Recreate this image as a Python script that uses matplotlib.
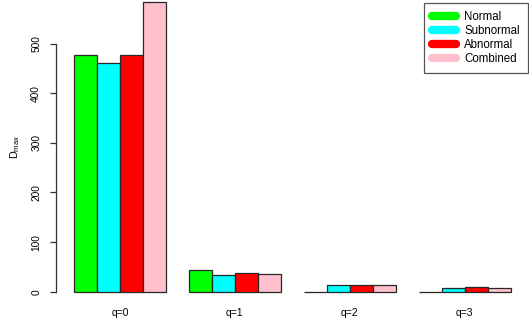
import matplotlib
matplotlib.use("Agg")
import matplotlib.pyplot as plt
from matplotlib.lines import Line2D
import numpy as np

plt.rcParams.update({
    "font.family": ["Liberation Sans", "DejaVu Sans"],
    "font.size": 7.3,
})

# ---------------------------------------------------------------- data
groups = ["q=0", "q=1", "q=2", "q=3"]
series = ["Normal", "Subnormal", "Abnormal", "Combined"]
normal = [478, 44, 0, 0]
subnormal = [462, 34, 13, 8]
abnormal = [477, 37, 14, 9]
combined = [585, 36, 13, 8]
values = [normal, subnormal, abnormal, combined]
colors = ["#00FF00", "#00FFFF", "#FF0000", "#FFC0CB"]

# ---------------------------------------------------------------- plot
fig = plt.figure(figsize=(5.29, 3.21), dpi=100)
ax = fig.add_axes([0.1068, 0.0551, 0.8913, 0.9763])

n_s = len(series)
for si, (vals, col) in enumerate(zip(values, colors)):
    lefts = 1 + np.arange(len(groups)) * (n_s + 1) + si
    ax.bar(lefts, vals, width=1, align="edge", color=col,
           edgecolor="#262626", linewidth=0.9)

ymax = max(max(v) for v in values)
ax.set_xlim(0.24, 20.76)
ax.set_ylim(-0.04 * ymax, 1.04 * ymax)

for sp in ["top", "right", "bottom"]:
    ax.spines[sp].set_visible(False)
ax.spines["left"].set_bounds(0, 500)
ax.spines["left"].set_color("#333333")
ax.spines["left"].set_linewidth(0.9)

ax.set_yticks([0, 100, 200, 300, 400, 500])
ax.tick_params(axis="y", length=4.5, width=0.9, color="#333333", pad=6.5)
for lab in ax.get_yticklabels():
    lab.set_rotation(90)
    lab.set_va("center")

centers = 1 + np.arange(len(groups)) * (n_s + 1) + n_s / 2
ax.set_xticks(centers)
ax.set_xticklabels(groups)
ax.tick_params(axis="x", length=0, pad=3.5, labelsize=7.5)

fig.text(15 / 529, 0.543, r"$\mathregular{D_{max}}$", rotation=90,
         ha="center", va="center", fontsize=7.8)

handles = [Line2D([0], [0], color=c, lw=6, solid_capstyle="round") for c in colors]
leg = fig.legend(handles, series, loc="upper right",
                 bbox_to_anchor=(528 / 529, (321 - 2.7) / 321),
                 borderaxespad=0, fancybox=False, framealpha=1,
                 edgecolor="#555555", handlelength=2.05, handletextpad=0.75,
                 labelspacing=0.17, borderpad=0.7, fontsize=8.3)
leg.get_frame().set_linewidth(0.9)

fig.savefig("out.png", dpi=100)
